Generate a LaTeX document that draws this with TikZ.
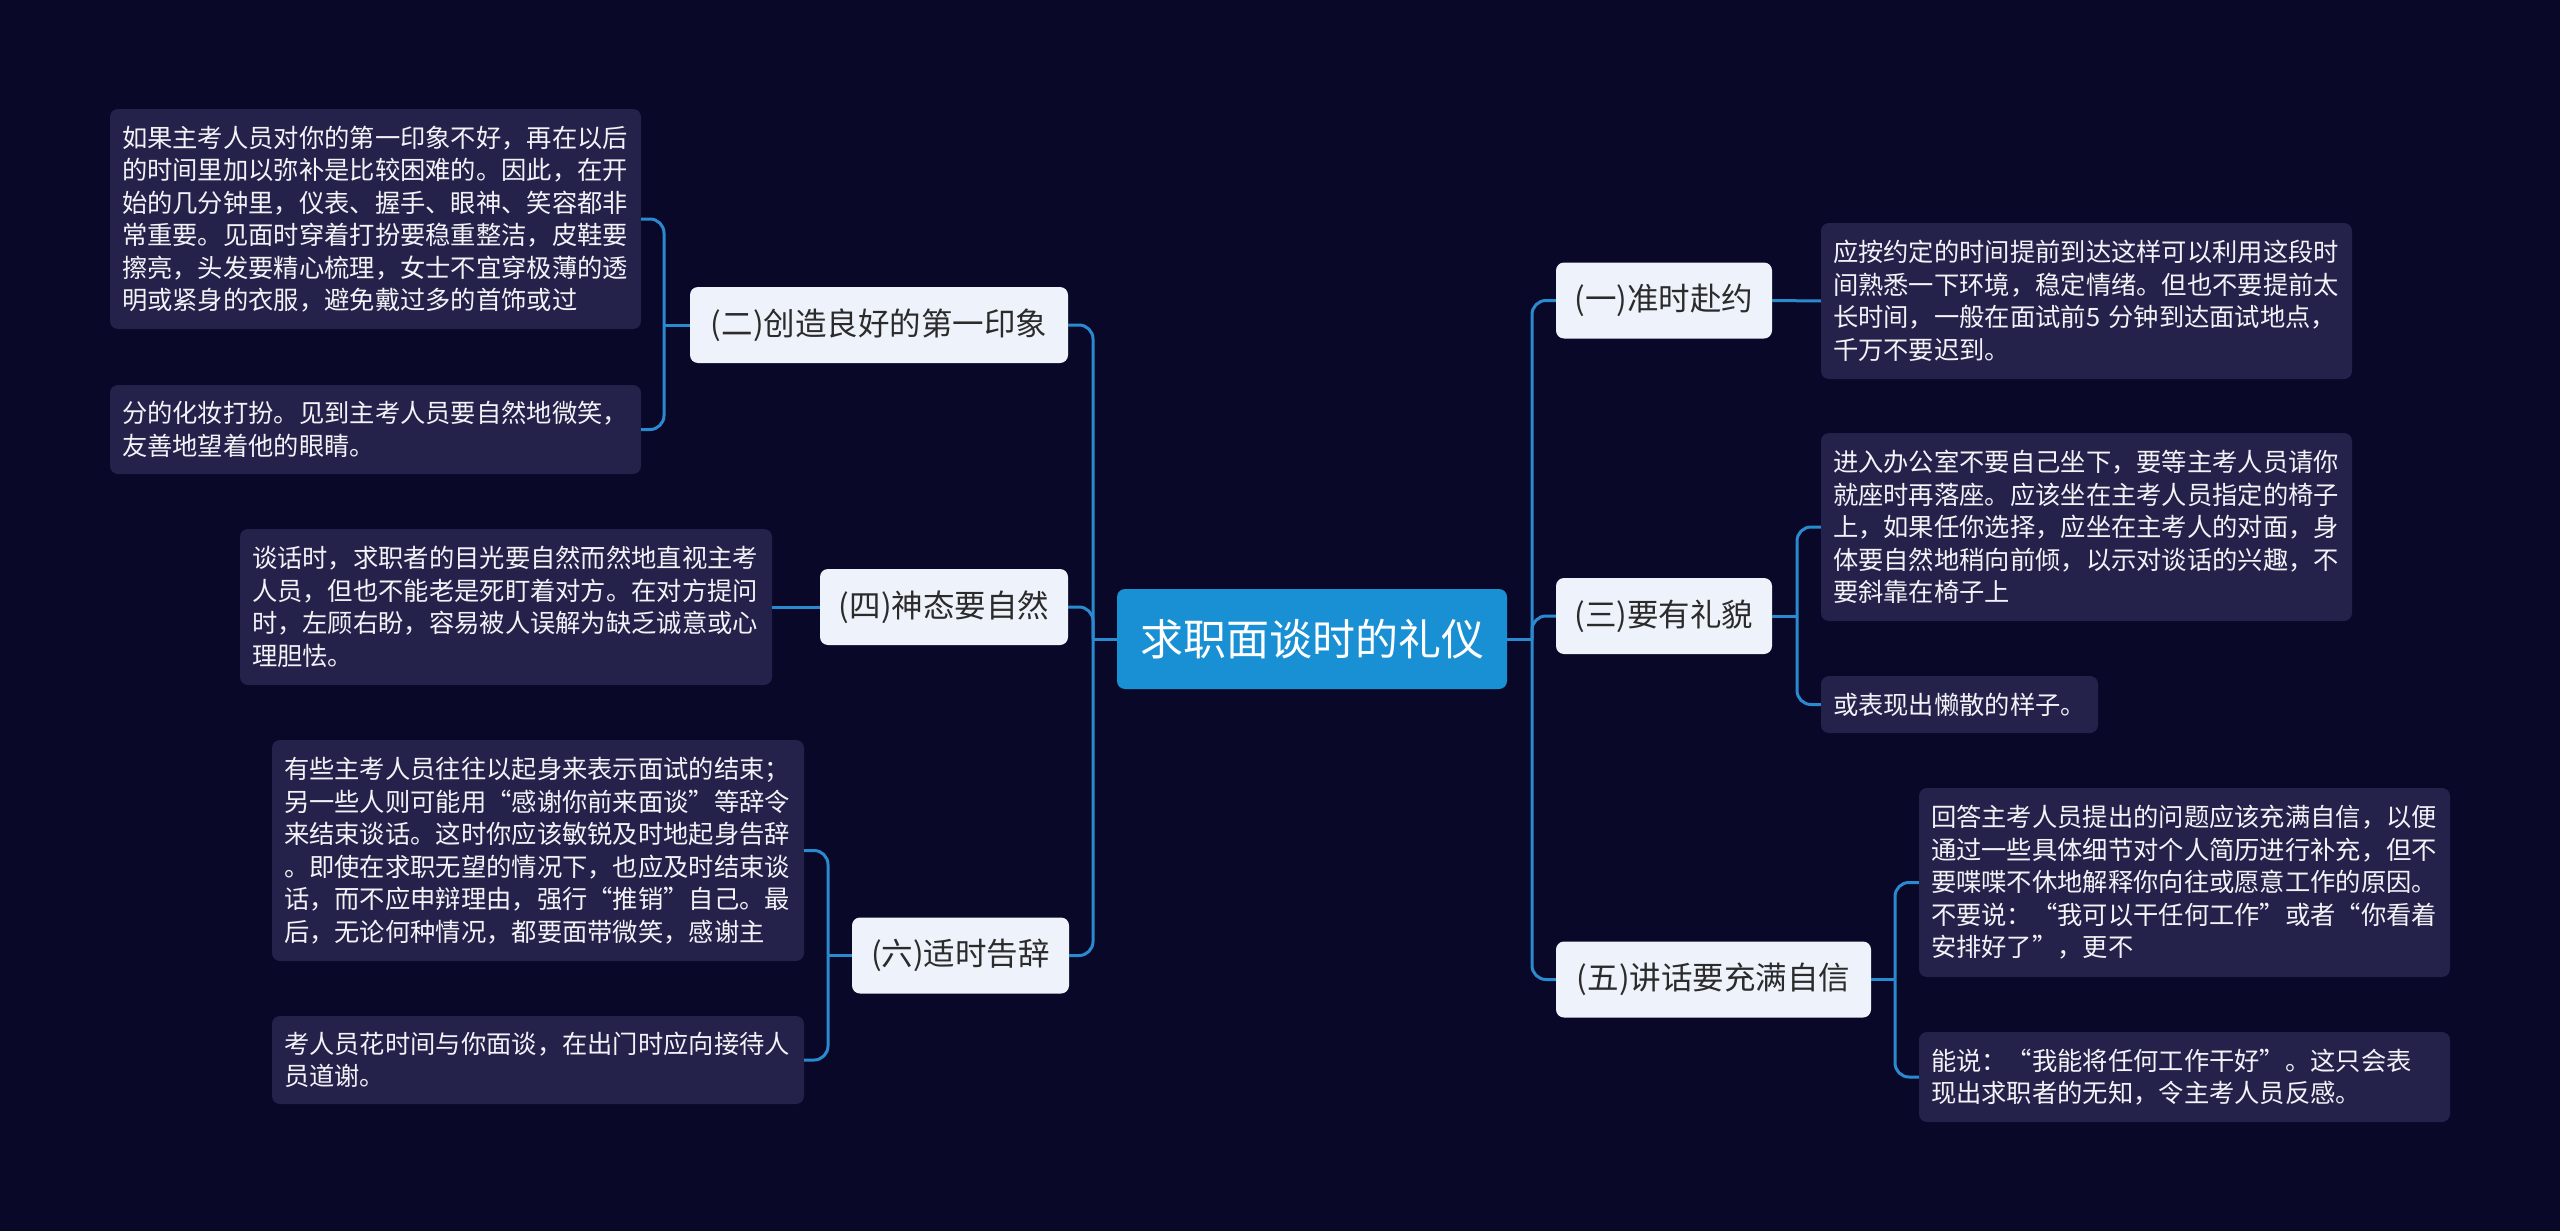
\documentclass[tikz,border=0pt]{standalone}
\usepackage{fontspec}
\setmainfont{Noto Sans CJK SC}
\definecolor{bgcol}{HTML}{0A0828}
\definecolor{leaffill}{HTML}{24224A}
\definecolor{leaftext}{HTML}{F2F2F7}
\definecolor{branchfill}{HTML}{EEF3FB}
\definecolor{branchtext}{HTML}{2B2B2B}
\definecolor{rootblue}{HTML}{1A90D4}
\definecolor{linkblue}{HTML}{2A8AD0}
\tikzset{
  rootbox/.style={fill=rootblue, rounded corners=8pt, text=white,
    font=\fontsize{43}{50}\selectfont, inner sep=0pt, minimum width=390pt, minimum height=100pt},
  branchbox/.style={fill=branchfill, rounded corners=8pt, text=branchtext,
    font=\fontsize{31.5}{36}\selectfont, inner sep=0pt, minimum height=76pt},
  leafbox/.style={fill=leaffill, rounded corners=8pt, text=leaftext,
    font=\fontsize{25.3}{32.5}\selectfont, align=left, inner xsep=12pt, inner ysep=0pt},
  link/.style={draw=linkblue, line width=3pt, rounded corners=14pt},
}
\begin{document}
\begin{tikzpicture}[x=1pt,y=-1pt]
\fill[bgcol] (0,0) rectangle (2560,1231);
\useasboundingbox (0,0) rectangle (2560,1231);

% root
\node[rootbox] (root) at (1312,639) {求职面谈时的礼仪};

% right branches
\node[branchbox, minimum width=216pt] (b1) at (1664,300.5) {(一)准时赴约};
\node[branchbox, minimum width=216pt] (b3) at (1664,616) {(三)要有礼貌};
\node[branchbox, minimum width=315pt] (b5) at (1713.5,979.5) {(五)讲话要充满自信};

% left branches
\node[branchbox, minimum width=378pt] (b2) at (879,325) {(二)创造良好的第一印象};
\node[branchbox, minimum width=248pt] (b4) at (944,607) {(四)神态要自然};
\node[branchbox, minimum width=217pt] (b6) at (960.5,955.5) {(六)适时告辞};

% right leaves
\node[leafbox, text width=507pt, minimum height=156pt] (t1) at (2086.5,301) {应按约定的时间提前到达这样可以利用这段时\\间熟悉一下环境，稳定情绪。但也不要提前太\\长时间，一般在面试前5 分钟到达面试地点，\\千万不要迟到。};
\node[leafbox, text width=507pt, minimum height=188pt] (t3a) at (2086.5,527) {进入办公室不要自己坐下，要等主考人员请你\\就座时再落座。应该坐在主考人员指定的椅子\\上，如果任你选择，应坐在主考人的对面，身\\体要自然地稍向前倾，以示对谈话的兴趣，不\\要斜靠在椅子上};
\node[leafbox, text width=253pt, minimum height=57pt] (t3b) at (1959.5,704.5) {或表现出懒散的样子。};
\node[leafbox, text width=507pt, minimum height=189pt] (t5a) at (2184.5,882.5) {回答主考人员提出的问题应该充满自信，以便\\通过一些具体细节对个人简历进行补充，但不\\要喋喋不休地解释你向往或愿意工作的原因。\\不要说：“我可以干任何工作”或者“你看着\\安排好了”，更不};
\node[leafbox, text width=507pt, minimum height=90pt] (t5b) at (2184.5,1077) {能说：“我能将任何工作干好”。这只会表\\现出求职者的无知，令主考人员反感。};

% left leaves
\node[leafbox, text width=507pt, minimum height=220pt] (t2a) at (375.5,219) {如果主考人员对你的第一印象不好，再在以后\\的时间里加以弥补是比较困难的。因此，在开\\始的几分钟里，仪表、握手、眼神、笑容都非\\常重要。见面时穿着打扮要稳重整洁，皮鞋要\\擦亮，头发要精心梳理，女士不宜穿极薄的透\\明或紧身的衣服，避免戴过多的首饰或过};
\node[leafbox, text width=507pt, minimum height=89pt] (t2b) at (375.5,429.5) {分的化妆打扮。见到主考人员要自然地微笑，\\友善地望着他的眼睛。};
\node[leafbox, text width=508pt, minimum height=156pt] (t4) at (506,607) {谈话时，求职者的目光要自然而然地直视主考\\人员，但也不能老是死盯着对方。在对方提问\\时，左顾右盼，容易被人误解为缺乏诚意或心\\理胆怯。};
\node[leafbox, text width=508pt, minimum height=221pt] (t6a) at (538,850.5) {有些主考人员往往以起身来表示面试的结束；\\另一些人则可能用“感谢你前来面谈”等辞令\\来结束谈话。这时你应该敏锐及时地起身告辞\\。即使在求职无望的情况下，也应及时结束谈\\话，而不应申辩理由，强行“推销”自己。最\\后，无论何种情况，都要面带微笑，感谢主};
\node[leafbox, text width=508pt, minimum height=88pt] (t6b) at (538,1060) {考人员花时间与你面谈，在出门时应向接待人\\员道谢。};

% junction coordinates
\coordinate (jL) at (1093,639);
\coordinate (jR) at (1532,639);
\coordinate (j2) at (664,325);
\coordinate (j6) at (828,955.5);
\coordinate (j3) at (1797,616);
\coordinate (j5) at (1895,979.5);

% root to branches
\draw[link] (root.west) -- (jL);
\draw[link] (jL) |- (b2.east);
\draw[link] (jL) |- (b4.east);
\draw[link] (jL) |- (b6.east);
\draw[link] (root.east) -- (jR);
\draw[link] (jR) |- (b1.west);
\draw[link] (jR) |- (b3.west);
\draw[link] (jR) |- (b5.west);

% branches to leaves
\draw[link] (b2.west) -- (j2);
\draw[link] (j2) |- (t2a.east);
\draw[link] (j2) |- (t2b.east);
\draw[link] (b4.west) -- (t4.east);
\draw[link] (b6.west) -- (j6);
\draw[link] (j6) |- (t6a.east);
\draw[link] (j6) |- (t6b.east);
\draw[link] (b1.east) -- (t1.west);
\draw[link] (b3.east) -- (j3);
\draw[link] (j3) |- (t3a.west);
\draw[link] (j3) |- (t3b.west);
\draw[link] (b5.east) -- (j5);
\draw[link] (j5) |- (t5a.west);
\draw[link] (j5) |- (t5b.west);
\end{tikzpicture}
\end{document}
